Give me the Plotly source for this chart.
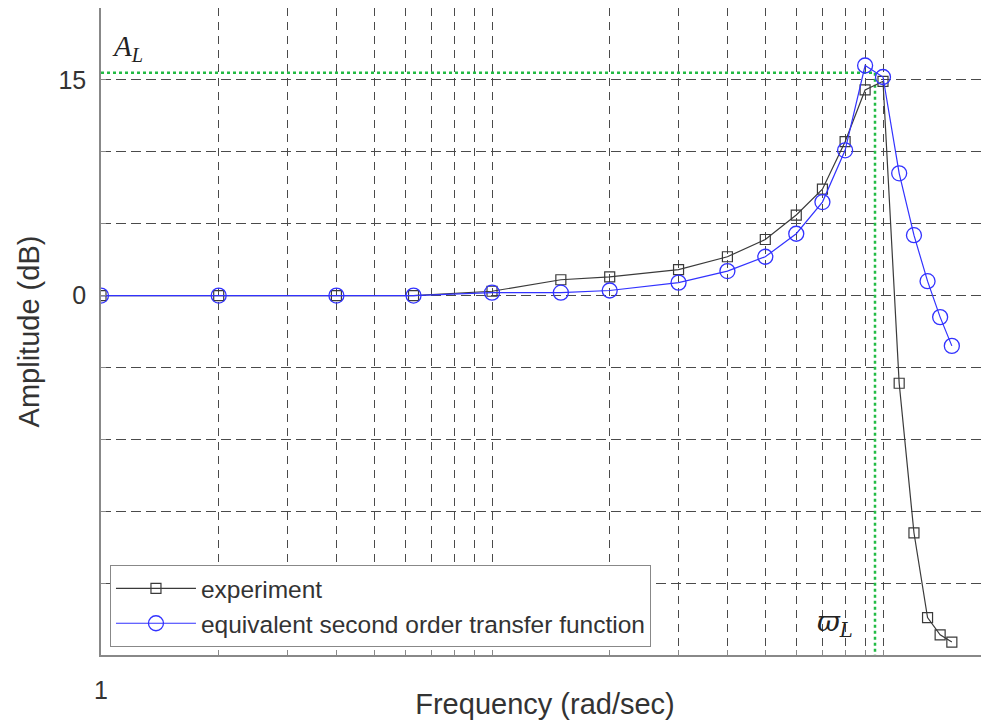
import math
import plotly.graph_objects as go

# ---- data ----
freq = [1, 2, 4, 6.3, 10, 15, 20, 30, 40, 50, 60, 70, 80, 90, 100, 110, 120, 130, 140, 150]
experiment_db = [0, 0, 0, 0, 0.3, 1.1, 1.3, 1.8, 2.7, 3.9, 5.6, 7.4, 10.7, 14.3, 14.9,
                 -6.1, -16.5, -22.4, -23.6, -24.1]
equivalent_db = [0, 0, 0, 0, 0.2, 0.2, 0.35, 0.9, 1.7, 2.7, 4.3, 6.5, 10.1, 16.0, 15.2,
                 8.5, 4.2, 1.0, -1.5, -3.5]
A_L = 15.5          # peak amplitude marker (dB)
omega_L = 95.4      # peak frequency marker (rad/sec)

x_tickvals = [1, 2, 3, 4, 5, 6, 7, 8, 9, 10, 20, 30, 40, 50, 60, 70, 80, 90, 100]
x_ticktext = ["1"] + [""] * (len(x_tickvals) - 1)
y_tickvals = [-25, -20, -15, -10, -5, 0, 5, 10, 15, 20]
y_ticktext = ["", "", "", "", "", "0", "", "", "15", ""]

GREEN = "#22bb44"
BLUE = "rgb(50,50,255)"
BLACK = "#3a3a3a"
GRID = "#4a4a4a"

fig = go.Figure()

# green guide lines for A_L and omega_L
fig.add_trace(go.Scatter(x=[freq[0], omega_L], y=[A_L, A_L], mode="lines",
                         line=dict(color=GREEN, width=2.5, dash="dot"),
                         showlegend=False, hoverinfo="skip"))
fig.add_trace(go.Scatter(x=[omega_L, omega_L], y=[A_L, y_tickvals[0]], mode="lines",
                         line=dict(color=GREEN, width=2.5, dash="dot"),
                         showlegend=False, hoverinfo="skip"))

fig.add_trace(go.Scatter(
    x=freq, y=experiment_db, mode="lines+markers", name="experiment",
    line=dict(color=BLACK, width=1.2),
    marker=dict(symbol="square-open", size=10, color=BLACK, line=dict(width=1.2)),
))
fig.add_trace(go.Scatter(
    x=freq, y=equivalent_db, mode="lines+markers",
    name="equivalent second order transfer function",
    line=dict(color=BLUE, width=1.2),
    marker=dict(symbol="circle-open", size=15, color=BLUE, line=dict(width=1.3)),
))

fig.add_annotation(x=math.log10(1.17), y=17.2, xref="x", yref="y",
                   text="<i>A</i><sub><i>L</i></sub>", showarrow=False,
                   font=dict(family="Liberation Serif, DejaVu Serif", size=29, color="#222"))
fig.add_annotation(x=math.log10(75.4), y=-22.8, xref="x", yref="y",
                   text="<i>ϖ</i><sub><i>L</i></sub>", showarrow=False,
                   font=dict(family="DejaVu Serif, Liberation Serif", size=28, color="#222"))

fig.update_layout(
    width=981, height=712,
    margin=dict(l=93, r=0, t=0, b=65, autoexpand=False),
    paper_bgcolor="white", plot_bgcolor="white",
    font=dict(family="Liberation Sans, Arial, sans-serif", color="#333"),
    showlegend=True,
    legend=dict(x=0.0101, y=0.0124, xanchor="left", yanchor="bottom",
                bgcolor="white", bordercolor="#888", borderwidth=1,
                font=dict(size=24.5, color="#333"), itemwidth=80, tracegroupgap=0),
    xaxis=dict(type="log", range=[0, 2.2711], tickvals=x_tickvals, ticktext=x_ticktext,
               showgrid=True, gridcolor=GRID, griddash="8px,6px", gridwidth=1.2,
               showline=True, linecolor="#888", linewidth=1.5, mirror=True,
               ticks="inside", ticklen=5, tickcolor="#888",
               ticklabelstandoff=12, tickfont=dict(size=25, color="#333"),
               zeroline=False, automargin=False,
               title=dict(text="Frequency (rad/sec)", font=dict(size=29, color="#333"), standoff=10)),
    yaxis=dict(range=[-25, 20], tickvals=y_tickvals, ticktext=y_ticktext,
               showgrid=True, gridcolor=GRID, griddash="10px,5px", gridwidth=1.2,
               showline=True, linecolor="#888", linewidth=1.5, mirror=False,
               ticks="inside", ticklen=5, tickcolor="#888",
               ticklabelstandoff=8, tickfont=dict(size=25, color="#333"),
               zeroline=False, automargin=False,
               title=dict(text="Amplitude (dB)", font=dict(size=29, color="#333"), standoff=10)),
)

fig.write_html("out.html")
